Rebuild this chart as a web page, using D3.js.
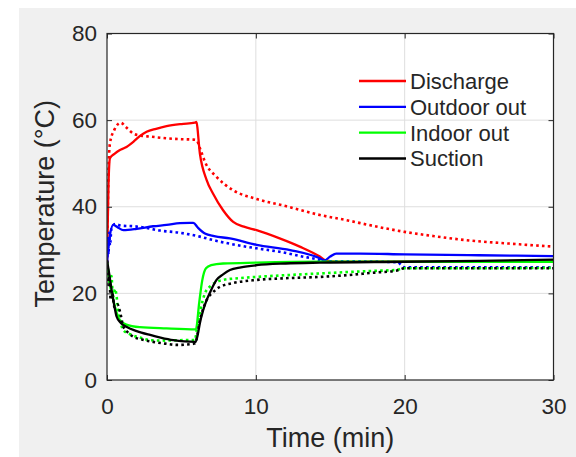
<!DOCTYPE html>
<html>
<head>
<meta charset="utf-8">
<script src="https://cdn.jsdelivr.net/npm/d3@7"></script>
<style>
  html, body { margin: 0; padding: 0; background: #ffffff; }
</style>
</head>
<body>
<div id="chart"></div>
<script>
// Series names (legend) and colours
const seriesNames = ["Discharge", "Outdoor out", "Indoor out", "Suction"];
const seriesColors = ["#ff0000", "#0000ff", "#00ff00", "#000000"];

const xTicks = [0, 10, 20, 30];
const yTicks = [0, 20, 40, 60, 80];

// Discharge, solid
const dischargeTime = [0, 0.1, 0.2, 0.5, 0.87, 1.2, 1.77, 2.2, 2.66, 3.3, 4.0, 5.0, 5.9, 6.0, 6.24, 6.69, 7.13, 7.8, 8.48, 9.2, 10.05, 11.6, 12.95, 14.3, 14.7, 15.5, 20, 25, 30];
const dischargeTemp = [27, 45, 51.2, 52.2, 53.1, 53.6, 55, 56.3, 57.3, 58.0, 58.6, 59.1, 59.4, 59.6, 52.3, 46.2, 43, 39.2, 36.5, 35.4, 34.6, 32.7, 30.8, 28.5, 27.6, 27.3, 27.3, 27.3, 27.3];
// Discharge, dotted
const dischargeTime2 = [0, 0.1, 0.2, 0.5, 0.92, 1.3, 1.77, 2.3, 2.9, 4.0, 5.0, 5.8, 6.0, 6.3, 6.58, 7.36, 8.48, 10.05, 12.06, 14.3, 16.1, 18, 20, 22, 24.1, 27, 30];
const dischargeTemp2 = [27, 48, 54.7, 57.8, 59.4, 58.3, 56.9, 56.4, 56.2, 55.8, 55.6, 55.5, 55.4, 53, 50.4, 46.9, 43.8, 41.8, 40.1, 38.1, 36.9, 35.5, 34.2, 33.2, 32.3, 31.5, 30.8];

// Outdoor out, solid
const outdoorTime = [0, 0.1, 0.2, 0.42, 0.7, 1.1, 2.0, 3.1, 4.0, 4.9, 5.57, 5.8, 6.1, 6.58, 7.2, 8.26, 10.05, 12.3, 14.3, 14.6, 15.0, 15.4, 17, 20, 25, 30];
const outdoorTemp = [27, 31, 33.5, 35.8, 35.3, 34.6, 34.9, 35.5, 35.8, 36.2, 36.3, 36.3, 35.2, 33.8, 33.2, 32.7, 31.2, 30, 28.1, 27.6, 28.5, 29.2, 29.2, 29.0, 28.8, 28.6];
// Outdoor out, dotted
const outdoorTime2 = [0, 0.05, 0.1, 0.15, 0.2, 0.3, 0.54, 1.0, 1.77, 2.5, 3.56, 4.9, 6.24, 7.13, 8.5, 10.05, 11.6, 13, 14.3, 14.6, 16, 19.5, 20, 25, 30];
const outdoorTemp2 = [27, 33, 29, 34, 31, 35, 36, 35.6, 35.5, 35.2, 34.5, 34.0, 33.1, 32.3, 31.3, 30.4, 29.6, 28.6, 27.7, 27.4, 27.4, 27.2, 26.0, 26.0, 26.0];

// Indoor out, solid
const indoorTime = [0, 0.15, 0.42, 0.65, 0.87, 1.3, 2.2, 4.0, 5.97, 6.2, 6.4, 6.65, 7.0, 7.8, 10.05, 14.3, 20, 30];
const indoorTemp = [27.3, 23, 18.5, 15.5, 13.8, 12.8, 12.2, 11.9, 11.7, 18, 23, 25.8, 26.5, 26.9, 27.1, 27.3, 27.3, 27.3];
// Indoor out, dotted
const indoorTime2 = [0, 0.1, 0.2, 0.3, 0.4, 0.54, 0.8, 1.1, 1.6, 2.2, 2.9, 4, 5.1, 5.9, 6.05, 6.3, 6.58, 7.0, 7.8, 8.8, 10.05, 12, 14.3, 16, 18, 19.4, 20, 25, 30];
const indoorTemp2 = [27, 25, 22, 24, 19, 21, 15, 11.5, 10.5, 9.8, 9.2, 9.1, 9.2, 9.2, 12, 16.5, 20, 21.8, 23.1, 23.5, 23.8, 24.2, 24.6, 24.9, 25.2, 25.4, 25.8, 25.8, 25.9];

// Suction, solid
const suctionTime = [0, 0.15, 0.31, 0.5, 0.65, 0.9, 1.3, 2.0, 2.9, 3.6, 4.45, 5.2, 5.95, 6.1, 6.24, 6.45, 6.7, 7.0, 7.36, 7.8, 8.26, 9, 10.05, 12, 14.3, 20, 25, 30];
const suctionTemp = [27.7, 24.5, 20.8, 17, 14.6, 13.3, 12.3, 11.3, 10.4, 9.8, 9.2, 8.9, 8.8, 10.5, 13.1, 16, 18.5, 20.8, 23.1, 24.4, 25.4, 26, 26.5, 26.9, 27.1, 27.3, 27.5, 27.8];
// Suction, dotted
const suctionTime2 = [0, 0.08, 0.15, 0.25, 0.35, 0.5, 0.7, 0.87, 1.1, 1.4, 1.77, 2.4, 3.1, 3.9, 4.68, 5.4, 5.95, 6.05, 6.24, 6.45, 6.7, 7.1, 7.58, 8.5, 10.05, 12, 14.3, 16.1, 18, 19.4, 20, 25, 30];
const suctionTemp2 = [27.5, 22, 24, 18.5, 20, 16.8, 17.5, 15.8, 12.3, 11, 10.0, 9.3, 8.8, 8.4, 8.1, 8.2, 8.5, 10, 13.8, 16.3, 18.5, 20.2, 21.5, 22.4, 23.1, 23.5, 23.8, 24.2, 24.8, 25.2, 25.8, 25.8, 25.8];

const solidSeries = [
  [dischargeTime, dischargeTemp],
  [outdoorTime, outdoorTemp],
  [indoorTime, indoorTemp],
  [suctionTime, suctionTemp]
];
const dottedSeries = [
  [dischargeTime2, dischargeTemp2],
  [outdoorTime2, outdoorTemp2],
  [indoorTime2, indoorTemp2],
  [suctionTime2, suctionTemp2]
];

class Chart {
  constructor() {
    const attrs = {
      container: "#chart",
      svgWidth: 576,
      svgHeight: 457,
      marginLeft: 107,
      marginTop: 33.5,
      chartWidth: 446.5,
      chartHeight: 346.5,
      axisColor: "#262626",
      gridColor: "#dedede",
      figureColor: "#f0f0f0",
      defaultFont: "'Liberation Sans', Arial, Helvetica, sans-serif"
    };
    this.getState = () => attrs;
    this.setState = (d) => Object.assign(attrs, d);
  }

  render() {
    this.drawSvgAndWrappers();
    this.drawGrid();
    this.drawLines();
    this.drawAxes();
    this.drawLegend();
    return this;
  }

  drawSvgAndWrappers() {
    const { container, svgWidth, svgHeight, marginLeft, marginTop, chartWidth, chartHeight, figureColor, defaultFont } = this.getState();

    const svg = d3.select(container).append("svg")
      .attr("width", svgWidth)
      .attr("height", svgHeight)
      .attr("font-family", defaultFont);

    // figure background (gray panel)
    svg.append("rect")
      .attr("x", 19).attr("y", 8)
      .attr("width", svgWidth - 19).attr("height", svgHeight - 8)
      .attr("fill", figureColor);

    const chart = svg.append("g")
      .attr("transform", `translate(${marginLeft},${marginTop})`);

    chart.append("rect")
      .attr("width", chartWidth).attr("height", chartHeight)
      .attr("fill", "#ffffff");

    chart.append("clipPath").attr("id", "plot-clip")
      .append("rect").attr("width", chartWidth).attr("height", chartHeight);

    const x = d3.scaleLinear().domain([0, 30]).range([0, chartWidth]);
    const y = d3.scaleLinear().domain([0, 80]).range([chartHeight, 0]);

    this.setState({ svg, chart, x, y });
  }

  drawGrid() {
    const { chart, x, y, chartWidth, chartHeight, gridColor } = this.getState();
    const grid = chart.append("g").attr("class", "grid");
    grid.selectAll(".gx").data(xTicks.slice(1, -1)).join("line")
      .attr("x1", d => x(d)).attr("x2", d => x(d))
      .attr("y1", 0).attr("y2", chartHeight)
      .attr("stroke", gridColor).attr("stroke-width", 1);
    grid.selectAll(".gy").data(yTicks.slice(1, -1)).join("line")
      .attr("y1", d => y(d)).attr("y2", d => y(d))
      .attr("x1", 0).attr("x2", chartWidth)
      .attr("stroke", gridColor).attr("stroke-width", 1);
  }

  drawLines() {
    const { chart, x, y } = this.getState();
    const line = d3.line()
      .x(d => x(d[0]))
      .y(d => y(d[1]))
      .curve(d3.curveMonotoneX);
    const toPoints = s => s[0].map((t, i) => [t, s[1][i]]);

    const g = chart.append("g").attr("clip-path", "url(#plot-clip)");
    seriesColors.forEach((color, i) => {
      g.append("path")
        .datum(toPoints(solidSeries[i]))
        .attr("d", line)
        .attr("fill", "none")
        .attr("stroke", color)
        .attr("stroke-width", 2.3)
        .attr("stroke-linejoin", "round");
      g.append("path")
        .datum(toPoints(dottedSeries[i]))
        .attr("d", line)
        .attr("fill", "none")
        .attr("stroke", color)
        .attr("stroke-width", 2.6)
        .attr("stroke-dasharray", "2.6,3.2");
    });
  }

  drawAxes() {
    const { chart, x, y, chartWidth, chartHeight, axisColor } = this.getState();

    const bottom = chart.append("g")
      .attr("transform", `translate(0,${chartHeight})`)
      .call(d3.axisBottom(x).tickValues(xTicks).tickSize(-5).tickPadding(18).tickFormat(d => d));
    const left = chart.append("g")
      .call(d3.axisLeft(y).tickValues(yTicks).tickSize(-5).tickPadding(10).tickFormat(d => d));
    const top = chart.append("g")
      .call(d3.axisTop(x).tickValues(xTicks).tickSize(-5).tickFormat(""));
    const right = chart.append("g")
      .attr("transform", `translate(${chartWidth},0)`)
      .call(d3.axisRight(y).tickValues(yTicks).tickSize(-5).tickFormat(""));

    [bottom, left, top, right].forEach(a => {
      a.select(".domain").remove();
      a.selectAll(".tick line").attr("stroke", axisColor).attr("stroke-width", 1);
      a.selectAll(".tick text")
        .attr("fill", axisColor)
        .attr("font-size", "22.5px")
        .attr("font-family", null);
    });

    chart.append("rect")
      .attr("width", chartWidth).attr("height", chartHeight)
      .attr("fill", "none")
      .attr("stroke", axisColor)
      .attr("stroke-width", 1.2);

    chart.append("text")
      .attr("x", chartWidth / 2)
      .attr("y", 447 - 33.5)
      .attr("text-anchor", "middle")
      .attr("font-size", "27px")
      .attr("fill", axisColor)
      .text("Time (min)");

    chart.append("text")
      .attr("transform", `translate(${54 - 107},${chartHeight / 2 - 3}) rotate(-90)`)
      .attr("text-anchor", "middle")
      .attr("font-size", "27px")
      .attr("fill", axisColor)
      .text("Temperature (°C)");
  }

  drawLegend() {
    const { svg, axisColor } = this.getState();
    const rowY = d3.scaleLinear().domain([0, 3]).range([81, 158.5]);
    const fontSize = 22;

    const legend = svg.append("g").attr("class", "legend");
    const rows = legend.selectAll("g").data(seriesNames).join("g")
      .attr("transform", (d, i) => `translate(0,${rowY(i)})`);
    rows.append("line")
      .attr("x1", 359).attr("x2", 406)
      .attr("stroke", (d, i) => seriesColors[i])
      .attr("stroke-width", 2.3);
    rows.append("text")
      .attr("x", 410)
      .attr("y", 0.716 * fontSize / 2)
      .attr("font-size", fontSize + "px")
      .attr("fill", axisColor)
      .text(d => d);
  }
}

new Chart().render();
</script>
</body>
</html>
